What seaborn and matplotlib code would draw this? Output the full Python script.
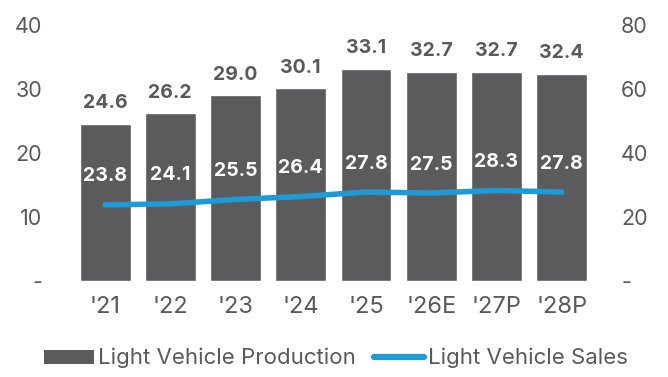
import matplotlib
matplotlib.use("Agg")
import matplotlib.pyplot as plt
import seaborn as sns
import pandas as pd
from matplotlib.patches import Patch
from matplotlib.lines import Line2D

years = ["'21", "'22", "'23", "'24", "'25", "'26E", "'27P", "'28P"]
production = [24.6, 26.2, 29.0, 30.1, 33.1, 32.7, 32.7, 32.4]
sales = [23.8, 24.1, 25.5, 26.4, 27.8, 27.5, 28.3, 27.8]
left_ticks = [0, 10, 20, 30, 40]
left_labels = ["-", "10", "20", "30", "40"]
right_ticks = [0, 20, 40, 60, 80]
right_labels = ["-", "20", "40", "60", "80"]

BAR = "#5b5b5d"
LINE = "#1e9ad6"
TEXT = "#595959"

sns.set_theme(style="white")
plt.rcParams["font.family"] = ["Inter", "DejaVu Sans"]

df = pd.DataFrame({"year": years, "production": production, "sales": sales})

fig = plt.figure(figsize=(6.68, 3.77), dpi=100)
ax = fig.add_axes([0.089, 0.2546, 0.82, 0.679])

sns.barplot(data=df, x="year", y="production", color=BAR, saturation=1,
            width=0.78, ax=ax)
ax.set_xlim(-0.7, 7.7)
ax.set_ylim(0, 40)
ax.set_yticks(left_ticks)
ax.set_yticklabels(left_labels)

for i, v in enumerate(production):
    ax.annotate(f"{v:.1f}", (i, v), xytext=(0, 15), textcoords="offset points",
                ha="center", va="center", fontsize=14, fontweight="bold", color=TEXT)

ax2 = ax.twinx()
sns.lineplot(data=df, x="year", y="sales", color=LINE, linewidth=4, ax=ax2,
             solid_capstyle="round", sort=False)
ax2.set_ylim(0, 80)
ax2.set_xlim(-0.7, 7.7)
ax2.set_yticks(right_ticks)
ax2.set_yticklabels(right_labels)

for i, v in enumerate(sales):
    ax2.annotate(f"{v:.1f}", (i, v), xytext=(0, 20.5), textcoords="offset points",
                 ha="center", va="center", fontsize=14, fontweight="bold", color="white")

for a in (ax, ax2):
    a.set_xlabel("")
    a.set_ylabel("")
    for s in a.spines.values():
        s.set_visible(False)
    a.tick_params(axis="both", length=0, labelsize=15.5, labelcolor=TEXT)
ax.tick_params(axis="y", pad=12.5)
ax.tick_params(axis="x", pad=11, labelsize=17)
ax2.tick_params(axis="y", pad=10)

handles = [Patch(facecolor=BAR, edgecolor="none"),
           Line2D([0], [0], color=LINE, linewidth=4.5, solid_capstyle="round")]
fig.legend(handles, ["Light Vehicle Production", "Light Vehicle Sales"],
           loc="center", bbox_to_anchor=(0.503, 0.05), ncol=2, frameon=False,
           fontsize=16, labelcolor=TEXT, handlelength=2.25, handleheight=0.6,
           handletextpad=0.2, columnspacing=0.8)

fig.savefig("out.png", dpi=100)
